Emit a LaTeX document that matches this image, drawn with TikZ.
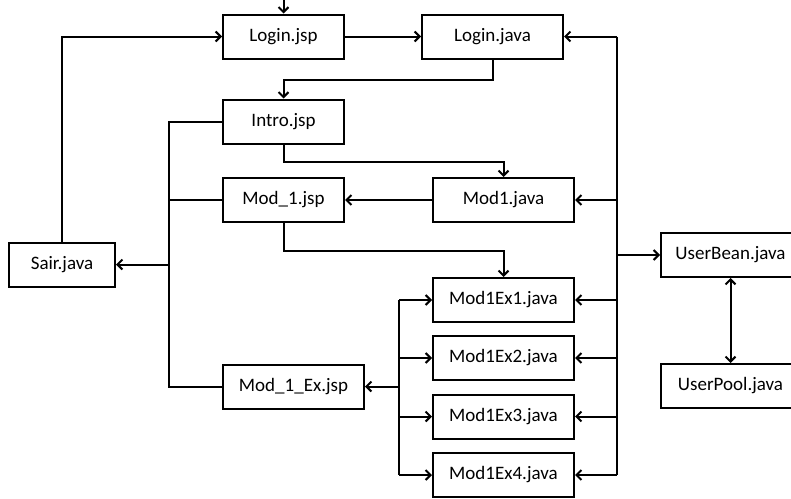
\documentclass[tikz,border=0pt]{standalone}
\usepackage{fontspec}
\setmainfont{Carlito}
\usetikzlibrary{arrows.meta}
\begin{document}
\begin{tikzpicture}[x=1pt,y=-1pt,
  box/.style={draw,line width=2pt,minimum height=44pt,inner sep=0pt,font=\fontsize{19}{22}\selectfont},
  wire/.style={line width=2pt},
  arr/.style={wire,-{Straight Barb[length=5pt,width=10pt,line width=2pt]}},
  darr/.style={wire,{Straight Barb[length=5pt,width=10pt,line width=2pt]}-{Straight Barb[length=5pt,width=10pt,line width=2pt]}}]
\useasboundingbox (0,0) rectangle (791,498);
\clip (0,0) rectangle (791,498);
\node[box,minimum width=121pt] (loginjsp) at (283.5,36.5) {Login.jsp};
\node[box,minimum width=141pt] (loginjava) at (492.5,36.5) {Login.java};
\node[box,minimum width=121pt] (intro) at (283.5,121.5) {Intro.jsp};
\node[box,minimum width=121pt] (mod1jsp) at (283.5,200) {Mod\_1.jsp};
\node[box,minimum width=141pt] (mod1java) at (503.5,200) {Mod1.java};
\node[box,minimum width=106pt] (sair) at (62,264.5) {Sair.java};
\node[box,minimum width=141pt] (ex1) at (503.5,300) {Mod1Ex1.java};
\node[box,minimum width=141pt] (ex2) at (503.5,358) {Mod1Ex2.java};
\node[box,minimum width=141pt] (ex3) at (503.5,416.5) {Mod1Ex3.java};
\node[box,minimum width=141pt] (ex4) at (503.5,475) {Mod1Ex4.java};
\node[box,minimum width=141pt] (modex) at (293.5,386.5) {Mod\_1\_Ex.jsp};
\node[box,minimum width=139pt] (userbean) at (730.5,255) {UserBean.java};
\node[box,minimum width=139pt] (userpool) at (730.5,386) {UserPool.java};
\coordinate (top) at (283.5,0);
\coordinate (lbus) at (169,121.5);
\coordinate (rtop) at (617,36.5);
\coordinate (rbot) at (617,475);
\coordinate (xtop) at (399,300);
\coordinate (xbot) at (399,475);
% top
\draw[arr] (top) -- (loginjsp.north);
\draw[arr] (loginjsp.east) -- (loginjava.west);
\draw[arr] (loginjava.south) -- ++(0,20) -| (intro.north);
\draw[arr] (sair.north) |- (loginjsp.west);
% left bus
\draw[wire] (intro.west) -| (lbus) |- (modex.west);
\draw[wire] (mod1jsp.west) -- (lbus |- mod1jsp.west);
\draw[arr] (lbus |- sair.east) -- (sair.east);
% middle
\draw[arr] (intro.south) -- ++(0,17) -| (mod1java.north);
\draw[arr] (mod1java.west) -- (mod1jsp.east);
\draw[arr] (mod1jsp.south) -- ++(0,28) -| (ex1.north);
% right bus
\draw[wire] (rtop) -- (rbot);
\draw[arr] (rtop) -- (loginjava.east);
\draw[arr] (rtop |- mod1java.east) -- (mod1java.east);
\draw[arr] (rtop |- ex1.east) -- (ex1.east);
\draw[arr] (rtop |- ex2.east) -- (ex2.east);
\draw[arr] (rtop |- ex3.east) -- (ex3.east);
\draw[arr] (rbot) -- (ex4.east);
\draw[arr] (rtop |- userbean.west) -- (userbean.west);
% ex bus
\draw[wire] (xtop) -- (xbot);
\draw[arr] (xtop) -- (ex1.west);
\draw[arr] (xtop |- ex2.west) -- (ex2.west);
\draw[arr] (xtop |- ex3.west) -- (ex3.west);
\draw[arr] (xbot) -- (ex4.west);
\draw[arr] (xtop |- modex.east) -- (modex.east);
% userbean-userpool
\draw[darr] (userbean.south) -- (userpool.north);
\end{tikzpicture}
\end{document}
